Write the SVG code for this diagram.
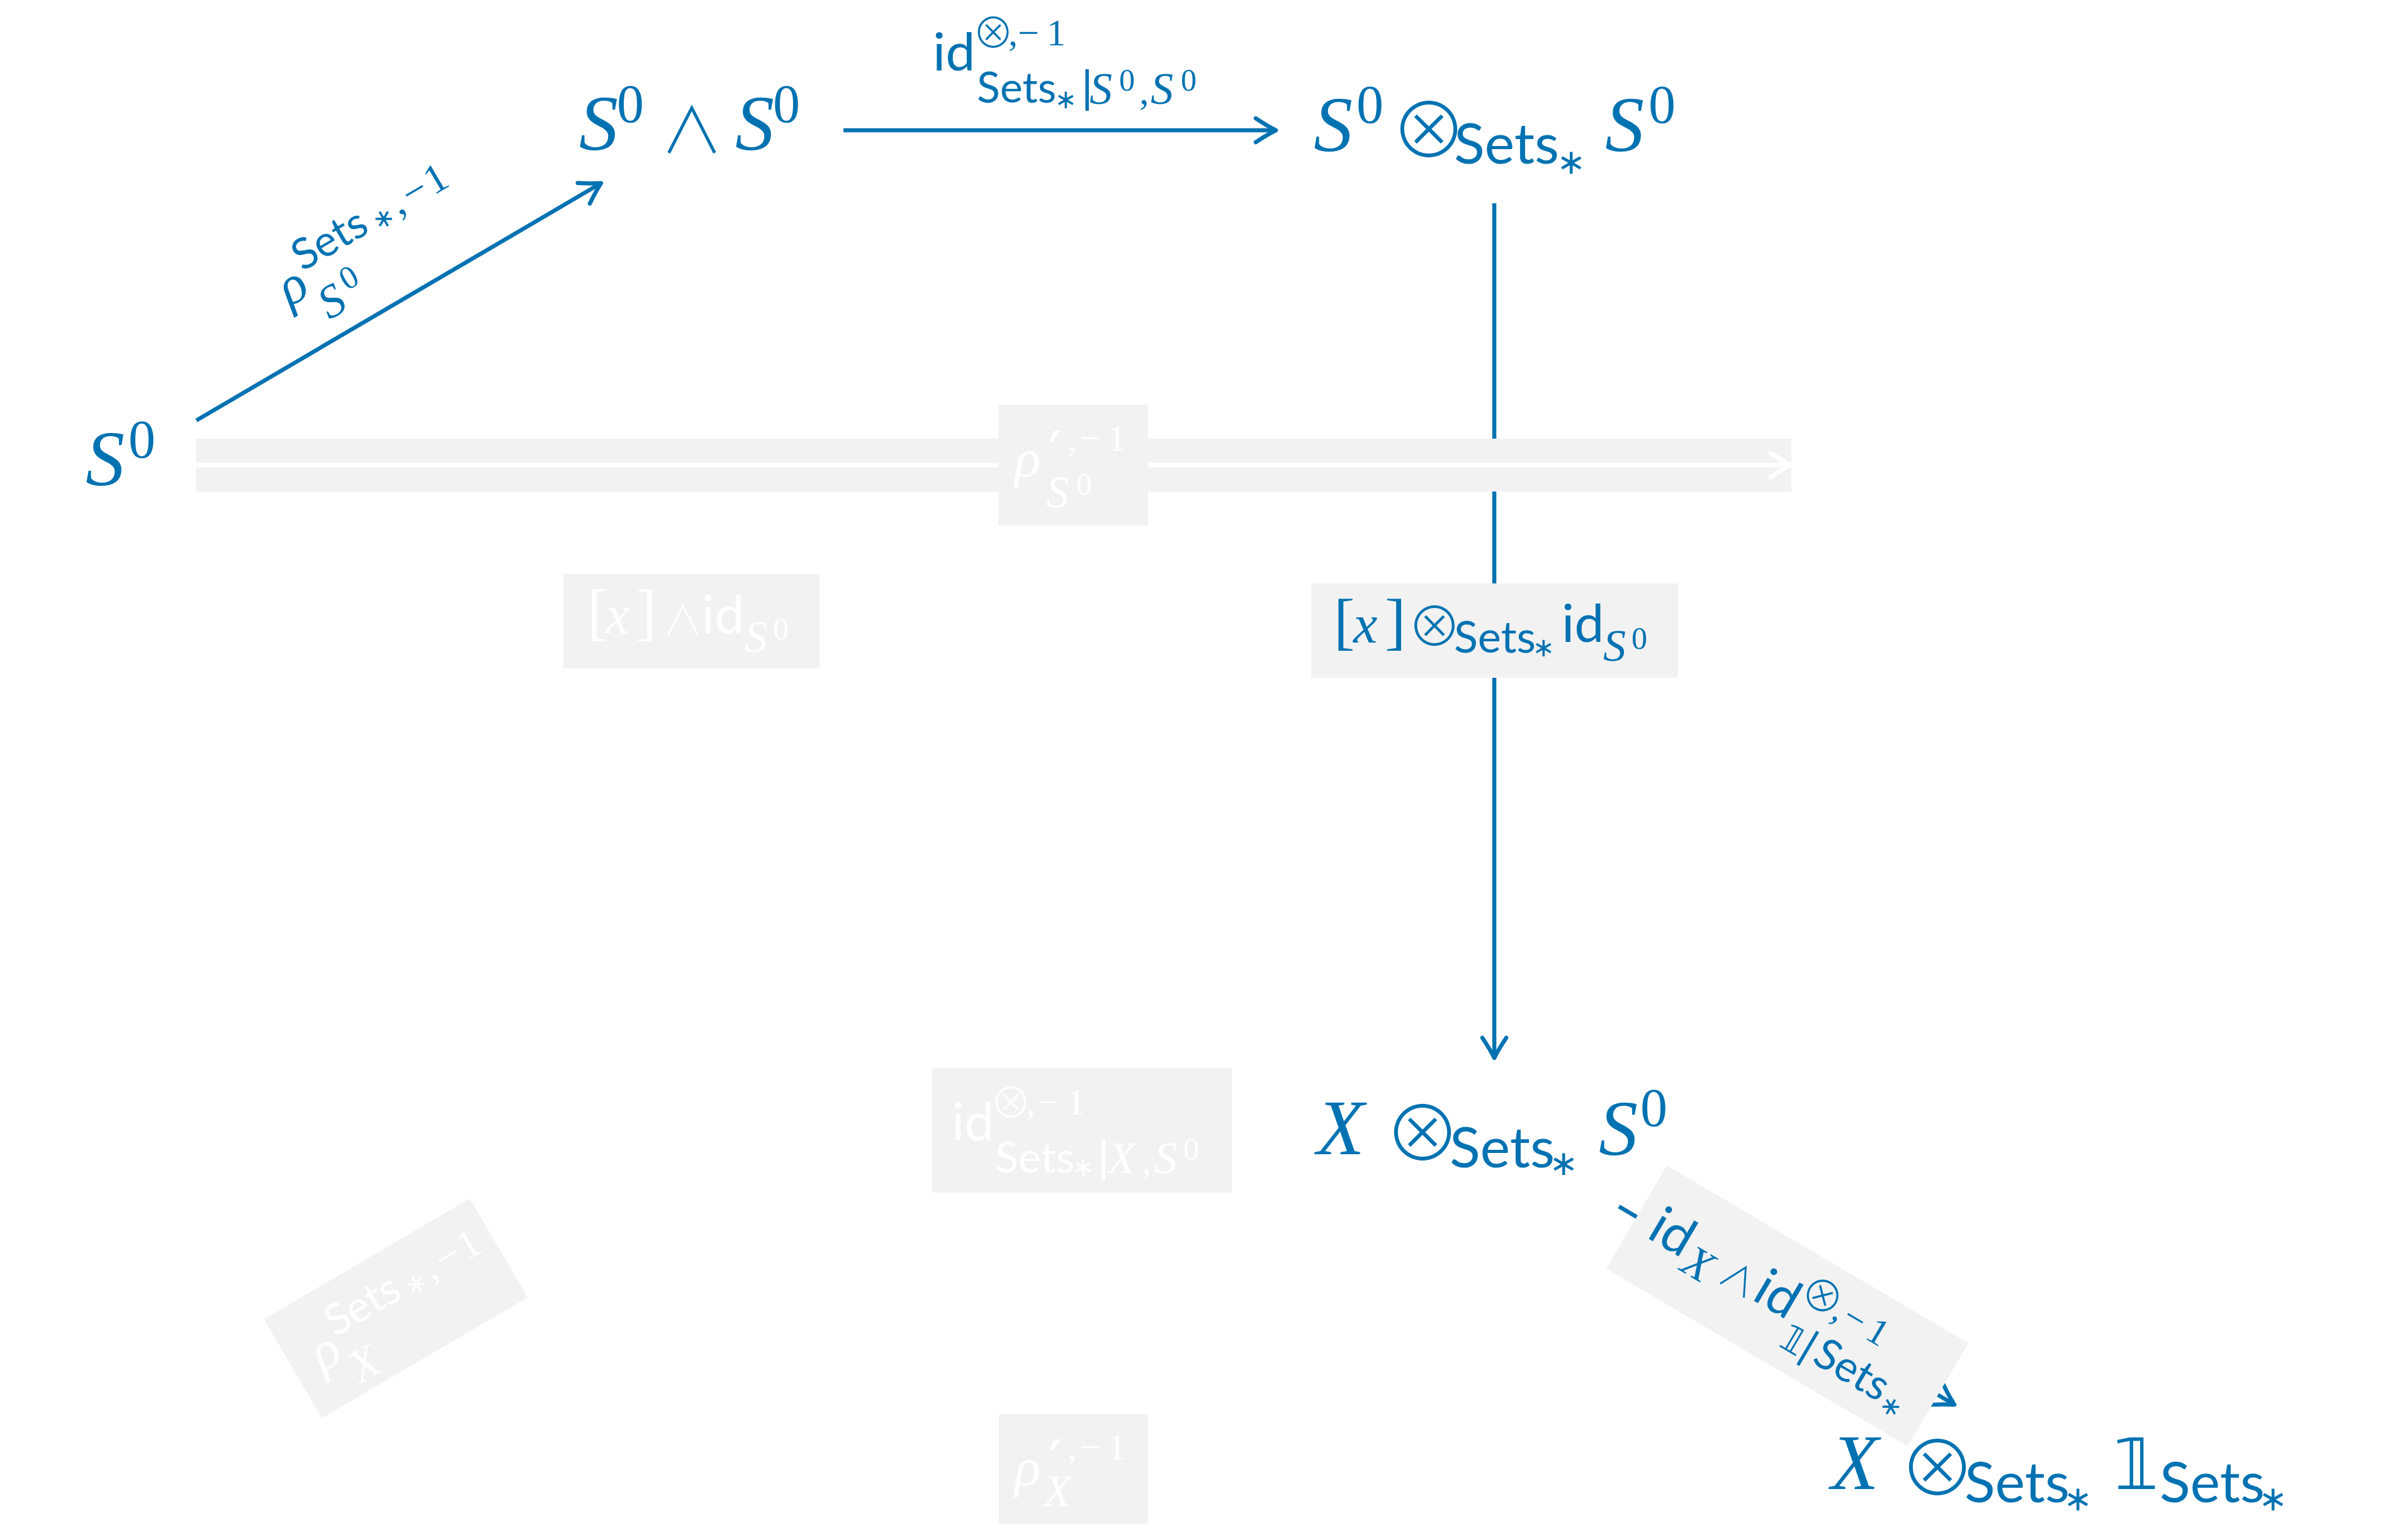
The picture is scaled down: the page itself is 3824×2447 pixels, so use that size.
<svg xmlns="http://www.w3.org/2000/svg" width="3824" height="2447" viewBox="0 0 3824 2447">
<style>
  .bg { fill: #ffffff; }
  .t { fill: #0072b2; }
  .g { fill: #ffffff; }
  .mi { font-family: "Liberation Serif", serif; font-style: italic; }
  .rm { font-family: "Liberation Serif", serif; }
  .sf { font-family: Lato, "Open Sans", sans-serif; }
  .sy { font-family: "DejaVu Sans", sans-serif; }
  .op { font-family: "Noto Sans CJK JP", "DejaVu Sans", sans-serif; font-weight: 300; }
  .box { fill: #f2f2f2; }
  .edge { fill: none; stroke: #0072b2; stroke-width: 6.5; }
  .ghost { fill: none; stroke: #ffffff; stroke-width: 7; }
  .head { fill: none; stroke: #0072b2; stroke-width: 6.5; stroke-linecap: round; stroke-linejoin: round; }
  .headw { fill: none; stroke: #ffffff; stroke-width: 7; stroke-linecap: round; stroke-linejoin: round; }
</style>
<defs>
  <marker id="tip" viewBox="-40 -30 50 60" refX="0" refY="0" markerWidth="50" markerHeight="60" markerUnits="userSpaceOnUse" orient="auto">
    <path class="head" d="M-32,-19 Q-14,-7 0,0 Q-14,7 -32,19"/>
  </marker>
  <marker id="tipw" viewBox="-40 -30 50 60" refX="0" refY="0" markerWidth="50" markerHeight="60" markerUnits="userSpaceOnUse" orient="auto">
    <path class="headw" d="M-32,-19 Q-14,-7 0,0 Q-14,7 -32,19"/>
  </marker>
</defs>

<rect class="bg" x="0" y="0" width="3824" height="2447"/>

<!-- arrows -->
<g id="connectors">
  <path id="e-rho-s0" class="edge" d="M312,668 L955,291" marker-end="url(#tip)"/>
  <path id="e-id-s0s0" class="edge" d="M1340,207 L2027,207" marker-end="url(#tip)"/>
  <path id="e-x-tensor" class="edge" d="M2374,323 L2374,1681" marker-end="url(#tip)"/>
  <path id="e-unit" class="edge" d="M2572,1917 L3105,2232" marker-end="url(#tip)"/>
  <g id="e-rho-prime-s0">
    <rect class="box" x="311" y="697" width="2535" height="84"/>
    <path class="ghost" d="M311,739 L2845,739" marker-end="url(#tipw)"/>
  </g>
</g>

<!-- arrow labels -->
<g id="labels">
  <!-- rho^{Sets*,-1}_{S^0} along the rising arrow -->
  <g id="lbl-rho-s0" transform="translate(460 488) rotate(-30.4)">
    <text class="mi t" x="0" y="0" font-size="86">ρ</text>
    <text class="sf t" x="46" y="-38" font-size="68">Sets</text>
    <text class="sy t" x="200" y="-32" font-size="42" text-anchor="middle">∗</text>
    <text class="rm t" x="223" y="-37" font-size="66">,</text>
    <text class="rm t" x="246" y="-37" font-size="66">−</text>
    <text class="rm t" x="287" y="-37" font-size="66">1</text>
    <text class="mi t" x="44" y="50" font-size="74">S</text>
    <text class="rm t" x="92" y="24" font-size="52">0</text>
  </g>

  <!-- id^{⊗,-1}_{Sets*|S^0,S^0} -->
  <g id="lbl-id-s0s0">
    <text class="sf t" x="1482" y="112" font-size="84">id</text>
    <text class="op t" x="1578" y="76" font-size="66" text-anchor="middle">⊗</text>
    <text class="rm t" x="1602" y="72" font-size="60">,</text>
    <text class="rm t" x="1617" y="72" font-size="60">−</text>
    <text class="rm t" x="1663" y="72" font-size="60">1</text>
    <text class="sf t" x="1552" y="163" font-size="68">Sets</text>
    <text class="sy t" x="1693" y="172" font-size="42" text-anchor="middle">∗</text>
    <text class="sy t" x="1716" y="160" font-size="66">|</text>
    <text class="mi t" x="1731" y="165" font-size="72">S</text>
    <text class="rm t" x="1778" y="144" font-size="50">0</text>
    <text class="rm t" x="1810" y="165" font-size="62">,</text>
    <text class="mi t" x="1828" y="165" font-size="72">S</text>
    <text class="rm t" x="1876" y="144" font-size="50">0</text>
  </g>

  <!-- rho'^{,-1}_{S^0} on the pale arrow -->
  <g id="lbl-rho-prime-s0">
    <rect class="box" x="1586" y="643" width="238" height="192"/>
    <text class="mi g" x="1612" y="757" font-size="86">ρ</text>
    <text class="sy g" x="1665" y="757" font-size="100">′</text>
    <text class="rm g" x="1696" y="716" font-size="60">,</text>
    <text class="rm g" x="1715" y="716" font-size="60">−</text>
    <text class="rm g" x="1759" y="716" font-size="60">1</text>
    <text class="mi g" x="1662" y="806" font-size="72">S</text>
    <text class="rm g" x="1710" y="786" font-size="50">0</text>
  </g>

  <!-- [x] ∧ id_{S^0} -->
  <g id="lbl-x-smash-id">
    <rect class="box" x="895" y="912" width="407" height="150"/>
    <text class="rm g" x="933" y="1006" font-size="100">[</text>
    <text class="mi g" x="962" y="1006" font-size="86">x</text>
    <text class="rm g" x="1010" y="1006" font-size="100">]</text>
    <text class="op g" x="1085" y="1008" font-size="64" text-anchor="middle">∧</text>
    <text class="sf g" x="1115" y="1006" font-size="84">id</text>
    <text class="mi g" x="1183" y="1036" font-size="72">S</text>
    <text class="rm g" x="1228" y="1016" font-size="50">0</text>
  </g>

  <!-- [x] ⊗_{Sets*} id_{S^0} -->
  <g id="lbl-x-tensor-id">
    <rect class="box" x="2083" y="927" width="583" height="150"/>
    <text class="rm t" x="2119" y="1021" font-size="100">[</text>
    <text class="mi t" x="2150" y="1021" font-size="86">x</text>
    <text class="rm t" x="2200" y="1021" font-size="100">]</text>
    <text class="op t" x="2279" y="1027" font-size="86" text-anchor="middle">⊗</text>
    <text class="sf t" x="2310" y="1037" font-size="70">Sets</text>
    <text class="sy t" x="2452" y="1043" font-size="42" text-anchor="middle">∗</text>
    <text class="sf t" x="2481" y="1020" font-size="84">id</text>
    <text class="mi t" x="2547" y="1050" font-size="72">S</text>
    <text class="rm t" x="2592" y="1031" font-size="50">0</text>
  </g>

  <!-- id^{⊗,-1}_{Sets*|X,S^0} -->
  <g id="lbl-id-xs0">
    <rect class="box" x="1481" y="1697" width="476" height="198"/>
    <text class="sf g" x="1512" y="1812" font-size="84">id</text>
    <text class="op g" x="1606" y="1776" font-size="66" text-anchor="middle">⊗</text>
    <text class="rm g" x="1630" y="1771" font-size="60">,</text>
    <text class="rm g" x="1648" y="1771" font-size="60">−</text>
    <text class="rm g" x="1694" y="1771" font-size="60">1</text>
    <text class="sf g" x="1581" y="1863" font-size="68">Sets</text>
    <text class="sy g" x="1721" y="1868" font-size="42" text-anchor="middle">∗</text>
    <text class="sy g" x="1742" y="1860" font-size="66">|</text>
    <text class="mi g" x="1760" y="1864" font-size="72">X</text>
    <text class="rm g" x="1814" y="1864" font-size="62">,</text>
    <text class="mi g" x="1834" y="1864" font-size="72">S</text>
    <text class="rm g" x="1880" y="1843" font-size="50">0</text>
  </g>

  <!-- rho^{Sets*,-1}_X, tilted -->
  <g id="lbl-rho-x" transform="translate(512 2181) rotate(-30.4)">
    <rect class="box" x="-37" y="-120" width="379" height="182"/>
    <text class="mi g" x="0" y="0" font-size="86">ρ</text>
    <text class="sf g" x="46" y="-38" font-size="68">Sets</text>
    <text class="sy g" x="200" y="-32" font-size="42" text-anchor="middle">∗</text>
    <text class="rm g" x="223" y="-37" font-size="66">,</text>
    <text class="rm g" x="246" y="-37" font-size="66">−</text>
    <text class="rm g" x="287" y="-37" font-size="66">1</text>
    <text class="mi g" x="42" y="46" font-size="74">X</text>
  </g>

  <!-- rho'^{,-1}_X -->
  <g id="lbl-rho-prime-x">
    <rect class="box" x="1587" y="2247" width="237" height="174"/>
    <text class="mi g" x="1612" y="2360" font-size="86">ρ</text>
    <text class="sy g" x="1665" y="2360" font-size="100">′</text>
    <text class="rm g" x="1696" y="2319" font-size="60">,</text>
    <text class="rm g" x="1715" y="2319" font-size="60">−</text>
    <text class="rm g" x="1759" y="2319" font-size="60">1</text>
    <text class="mi g" x="1658" y="2393" font-size="72">X</text>
  </g>

  <!-- id_X ∧ id^{⊗,-1}_{1|Sets*}, tilted -->
  <g id="lbl-unit" transform="translate(2839.5 2075) rotate(30.5)">
    <rect class="box" x="-278" y="-95" width="556" height="190"/>
    <text class="sf t" x="-250" y="20" font-size="84">id</text>
    <text class="mi t" x="-178" y="38" font-size="72">X</text>
    <text class="op t" x="-88" y="24" font-size="60" text-anchor="middle">∧</text>
    <text class="sf t" x="-56" y="20" font-size="84">id</text>
    <text class="op t" x="40" y="-17" font-size="68" text-anchor="middle">⊗</text>
    <text class="rm t" x="68" y="-18" font-size="60">,</text>
    <text class="rm t" x="86" y="-18" font-size="60">−</text>
    <text class="rm t" x="130" y="-18" font-size="60">1</text>
    <text class="sy t" x="18" y="62" font-size="58">𝟙</text>
    <text class="sy t" x="52" y="58" font-size="62">|</text>
    <text class="sf t" x="77" y="58" font-size="68">Sets</text>
    <text class="sy t" x="223" y="68" font-size="42" text-anchor="middle">∗</text>
  </g>
</g>

<!-- objects -->
<g id="n-s0">
  <text class="mi t" x="136" y="771" font-size="124">S</text>
  <text class="rm t" x="204" y="727" font-size="86">0</text>
</g>

<g id="n-s0-smash-s0">
  <text class="mi t" x="920" y="238" font-size="124">S</text>
  <text class="rm t" x="980" y="194" font-size="86">0</text>
  <text class="op t" x="1099" y="243" font-size="100" text-anchor="middle">∧</text>
  <text class="mi t" x="1168" y="238" font-size="124">S</text>
  <text class="rm t" x="1228" y="194" font-size="86">0</text>
</g>

<g id="n-s0-tensor-s0">
  <text class="mi t" x="2087" y="240" font-size="124">S</text>
  <text class="rm t" x="2155" y="195" font-size="86">0</text>
  <text class="op t" x="2270" y="251" font-size="122" text-anchor="middle">⊗</text>
  <text class="sf t" x="2310" y="260" font-size="90">Sets</text>
  <text class="sy t" x="2496" y="276" font-size="55" text-anchor="middle">∗</text>
  <text class="mi t" x="2550" y="240" font-size="124">S</text>
  <text class="rm t" x="2619" y="195" font-size="86">0</text>
</g>

<g id="n-x-tensor-s0">
  <text class="mi t" x="2092" y="1834" font-size="124">X</text>
  <text class="op t" x="2260" y="1845" font-size="122" text-anchor="middle">⊗</text>
  <text class="sf t" x="2303" y="1855" font-size="90">Sets</text>
  <text class="sy t" x="2484" y="1867" font-size="55" text-anchor="middle">∗</text>
  <text class="mi t" x="2540" y="1835" font-size="124">S</text>
  <text class="rm t" x="2606" y="1789" font-size="86">0</text>
</g>

<g id="n-x-tensor-unit">
  <text class="mi t" x="2909" y="2366" font-size="124">X</text>
  <text class="op t" x="3078" y="2377" font-size="122" text-anchor="middle">⊗</text>
  <text class="sf t" x="3121" y="2387" font-size="90">Sets</text>
  <text class="sy t" x="3301" y="2400" font-size="55" text-anchor="middle">∗</text>
  <text class="sy t" x="3358" y="2366" font-size="112">𝟙</text>
  <text class="sf t" x="3431" y="2387" font-size="90">Sets</text>
  <text class="sy t" x="3611" y="2400" font-size="55" text-anchor="middle">∗</text>
</g>
</svg>
